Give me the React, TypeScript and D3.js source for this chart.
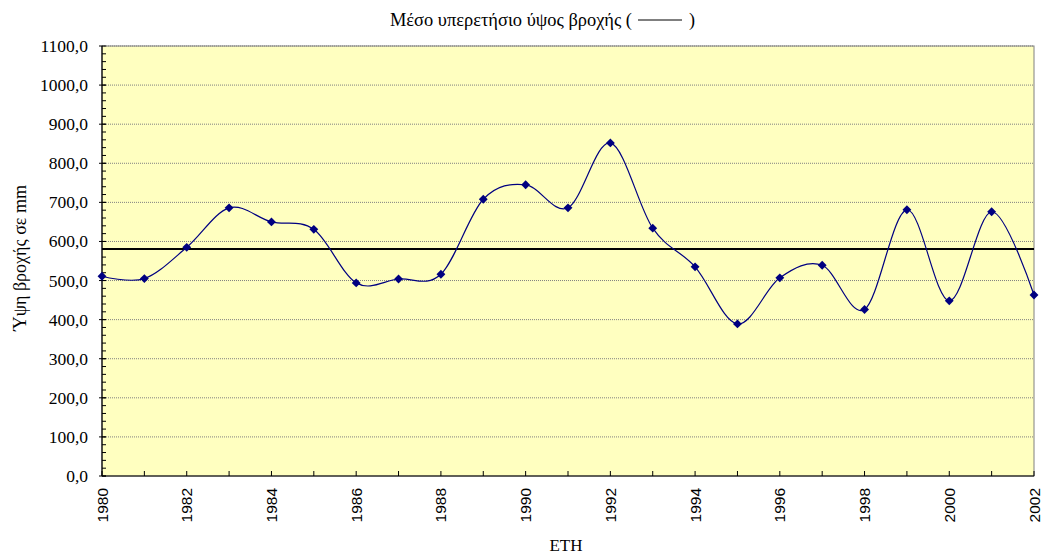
import React from "react";
import * as d3 from "d3";

const years: number[] = [1980,1981,1982,1983,1984,1985,1986,1987,1988,1989,1990,1991,1992,1993,1994,1995,1996,1997,1998,1999,2000,2001,2002];
const rainfall: number[] = [511,505,585,686,650,631,494,504,516,708,745,686,852,634,535,389,507,539,426,681,448,676,463];
const meanRainfall = 581;
const yTicks: number[] = [0,100,200,300,400,500,600,700,800,900,1000,1100];
const xLabelYears: number[] = [1980,1982,1984,1986,1988,1990,1992,1994,1996,1998,2000,2002];

const W = 1041, H = 554;
const L = 102, R = 1034, T = 46, B = 476;

export default function App() {
  const x = d3.scaleLinear().domain([1980, 2002]).range([L, R]);
  const y = d3.scaleLinear().domain([0, 1100]).range([B, T]);
  const line = d3.line<number>()
    .x((_, i) => x(years[i]))
    .y((d) => y(d))
    .curve(d3.curveCatmullRom.alpha(0));
  const minor = d3.range(0, 1100, 20);
  const fmt = (v: number) => v.toFixed(1).replace(".", ",");
  const diamond = d3.symbol().type(d3.symbolDiamond2).size(50)();
  return (
    <svg width={W} height={H} style={{ position: "absolute", left: 0, top: 0 }}>
      <rect x={L} y={T} width={R - L} height={B - T} fill="#FFFFC0" stroke="#808080" strokeWidth={1} />
      {yTicks.filter((v) => v > 0).map((v) => (
        <line key={"g" + v} x1={L} x2={R} y1={y(v)} y2={y(v)} stroke="#808080" strokeWidth={1} strokeDasharray="1 1" />
      ))}
      {minor.map((v) => (
        <line key={"m" + v} x1={L} x2={L + 4} y1={y(v)} y2={y(v)} stroke="#000" strokeWidth={1} />
      ))}
      {yTicks.map((v) => (
        <line key={"t" + v} x1={L - 3} x2={L + 4} y1={y(v)} y2={y(v)} stroke="#000" strokeWidth={1} />
      ))}
      {years.map((yr) => (
        <line key={"xt" + yr} x1={x(yr)} x2={x(yr)} y1={B} y2={B - 5} stroke="#000" strokeWidth={1} />
      ))}
      <line x1={L} x2={L} y1={T} y2={B} stroke="#000" strokeWidth={1.2} />
      <line x1={L} x2={R} y1={B} y2={B} stroke="#000" strokeWidth={1.2} />
      <line x1={L} x2={R} y1={y(meanRainfall)} y2={y(meanRainfall)} stroke="#000" strokeWidth={2} />
      <path d={line(rainfall) || ""} fill="none" stroke="#000080" strokeWidth={1.2} />
      {rainfall.map((v, i) => (
        <path key={"p" + i} d={diamond || ""} transform={`translate(${x(years[i])},${y(v)})`} fill="#000080" />
      ))}
      {yTicks.map((v) => (
        <text key={"yl" + v} x={88} y={y(v) + 6} textAnchor="end" fontFamily="Liberation Serif" fontSize={17.5} fill="#000">{fmt(v)}</text>
      ))}
      {xLabelYears.map((yr) => (
        <text key={"xl" + yr} transform={`translate(${x(yr) + 5.5},${B + 12}) rotate(-90)`} textAnchor="end" fontFamily="Liberation Sans" fontSize={15.5} fill="#000">{yr}</text>
      ))}
      <text x={390} y={26} textAnchor="start" fontFamily="Liberation Serif" fontSize={18} fill="#000" textLength={242} lengthAdjust="spacingAndGlyphs">Μέσο υπερετήσιο ύψος βροχής (</text>
      <line x1={638} x2={682} y1={20} y2={20} stroke="#000" strokeWidth={1} />
      <text x={689} y={26} textAnchor="start" fontFamily="Liberation Serif" fontSize={18} fill="#000">)</text>
      <text transform={`translate(26,258) rotate(-90)`} textAnchor="middle" fontFamily="Liberation Serif" fontSize={18} fill="#000">Ύψη βροχής σε mm</text>
      <text x={566} y={551} textAnchor="middle" fontFamily="Liberation Serif" fontSize={17} fill="#000">ΕΤΗ</text>
    </svg>
  );
}
